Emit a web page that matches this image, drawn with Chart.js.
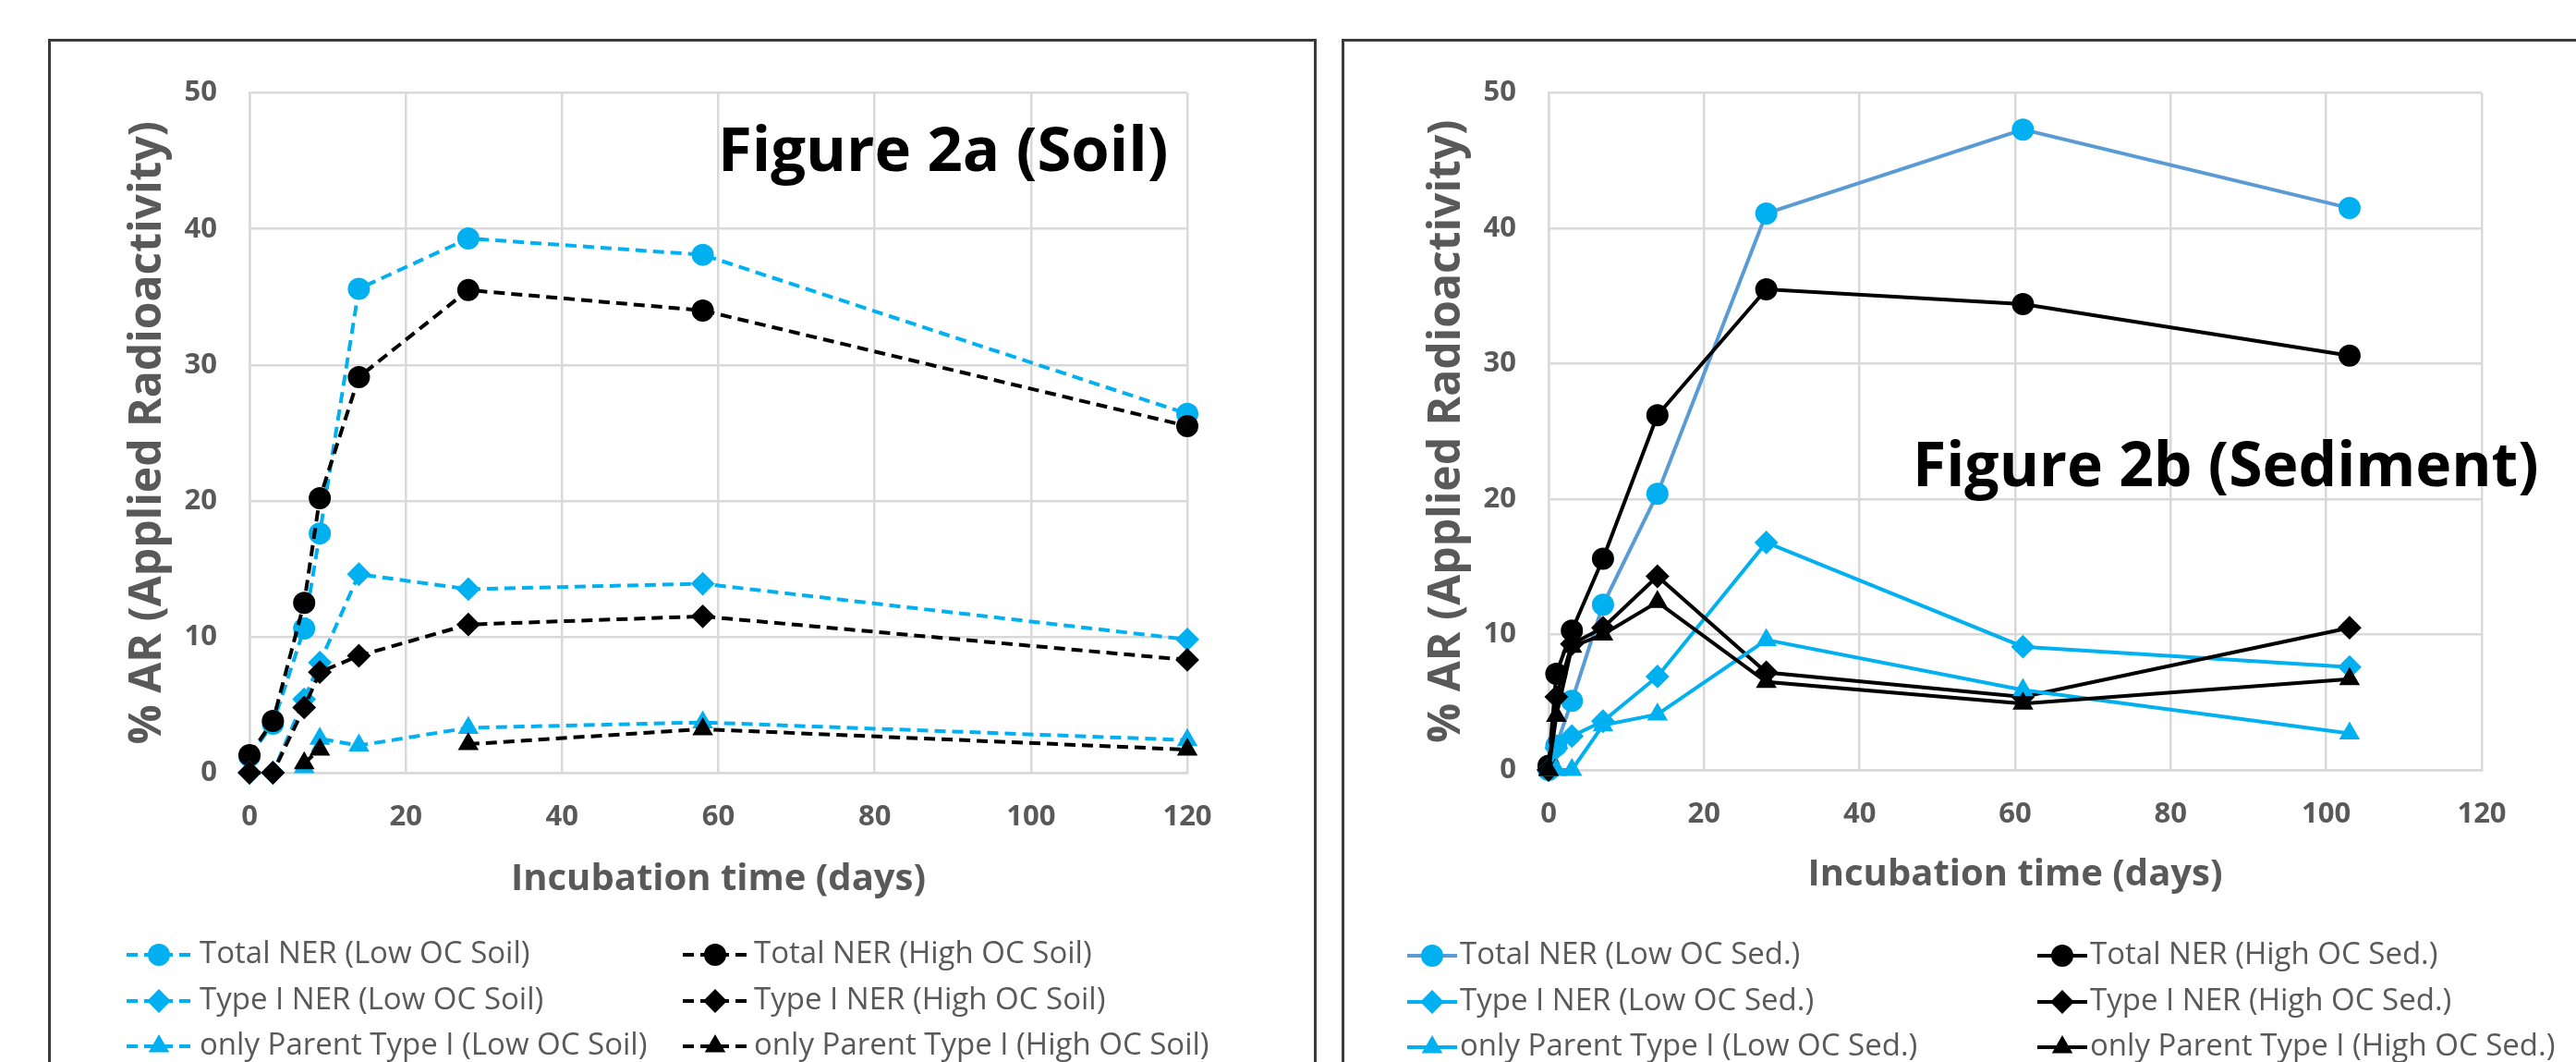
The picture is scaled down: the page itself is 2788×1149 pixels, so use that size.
<!DOCTYPE html>
<html>
<head>
<meta charset="utf-8">
<title>Figure 2a / 2b NER</title>
<script src="https://cdn.jsdelivr.net/npm/chart.js@4.4.1/dist/chart.umd.min.js"></script>
<style>
  html, body { margin: 0; padding: 0; background: #fff; }
  body { width: 2788px; height: 1149px; overflow: hidden; position: relative; }
  .panel { position: absolute; border: 3px solid #3a3a3a; box-sizing: border-box; }
  #panelSoil { left: 52px; top: 42px; width: 1373px; height: 1200px; }
  #panelSed { left: 1452px; top: 42px; width: 1400px; height: 1200px; }
  canvas { position: absolute; }
  #soilChart { left: 56px; top: 47px; }
  #sedChart { left: 1456px; top: 47px; }
</style>
</head>
<body>
<div class="panel" id="panelSoil"></div>
<div class="panel" id="panelSed"></div>
<canvas id="soilChart" width="1364" height="1102"></canvas>
<canvas id="sedChart" width="1332" height="1102"></canvas>

<script>
// ---- data: Figure 2a (Soil) ----
const soilDays = [0, 3, 7, 9, 14, 28, 58, 120];
const totalNerLowSoil = [1.2, 3.6, 10.6, 17.6, 35.6, 39.3, 38.1, 26.4];
const totalNerHighSoil = [1.3, 3.8, 12.5, 20.2, 29.1, 35.5, 34.0, 25.5];
const typeINerLowSoil = [0, 0, 5.4, 8.1, 14.6, 13.5, 13.9, 9.8];
const typeINerHighSoil = [0, 0, 4.8, 7.4, 8.6, 10.9, 11.5, 8.3];
const parentLowSoil = [null, null, 0.4, 2.5, 2.0, 3.3, 3.7, 2.4];
const parentHighSoil = [null, null, 0.7, 1.7, null, 2.1, 3.2, 1.7];

// ---- data: Figure 2b (Sediment) ----
const sedDays = [0, 1, 3, 7, 14, 28, 61, 103];
const totalNerLowSed = [0, 1.8, 5.1, 12.2, 20.4, 41.1, 47.3, 41.5];
const totalNerHighSed = [0.3, 7.1, 10.3, 15.6, 26.2, 35.5, 34.4, 30.6];
const typeINerLowSed = [0, 1.6, 2.5, 3.6, 6.9, 16.8, 9.1, 7.6];
const typeINerHighSed = [0, 5.4, 9.3, 10.5, 14.3, 7.2, 5.4, 10.5];
const parentLowSed = [0, 0, 0, 3.3, 4.1, 9.6, 5.9, 2.7];
const parentHighSed = [0, 4.0, 9.1, 10.0, 12.4, 6.5, 4.9, 6.7];

// axis ticks
const xMax = 120, xStep = 20;
const yMax = 50, yStep = 10;

const BLUE = '#00B0F0';
const STEEL = '#5B9BD5';
const BLACK = '#000000';
const GREY_TEXT = '#595959';
const GRID = '#d9d9d9';

Chart.defaults.font.family = '"Open Sans", "DejaVu Sans", sans-serif';
Chart.defaults.color = GREY_TEXT;

function pts(days, vals) {
    return days.map((d, i) => ({ x: d, y: vals[i] }));
}

const markerSize = { circle: 11, rectRot: 11.5, triangle: 11 };

function series(label, days, vals, color, style, lineColor, dashed) {
    return {
        label: label,
        data: pts(days, vals),
        borderColor: lineColor || color,
        backgroundColor: color,
        pointBackgroundColor: color,
        pointBorderColor: color,
        pointStyle: style,
        pointRadius: markerSize[style],
        pointBorderWidth: 2,
        borderWidth: 4,
        borderDash: dashed ? [12, 7] : [],
        spanGaps: false,
        clip: false,
        tension: 0
    };
}

// legend drawn the Excel way: short line with marker, text right of it
const excelLegend = {
    id: 'excelLegend',
    afterDraw(chart, args, opts) {
        const ctx = chart.ctx;
        chart.data.datasets.forEach((ds, i) => {
            const col = i % 2, row = Math.floor(i / 2);
            const x0 = opts.cols[col];
            const y = opts.rows[row];
            ctx.save();
            ctx.strokeStyle = ds.borderColor;
            ctx.lineWidth = ds.borderWidth;
            ctx.setLineDash(ds.borderDash || []);
            ctx.beginPath();
            ctx.moveTo(x0, y);
            ctx.lineTo(x0 + opts.sample, y);
            ctx.stroke();
            ctx.setLineDash([]);
            ctx.fillStyle = ds.pointBackgroundColor;
            ctx.strokeStyle = ds.pointBorderColor;
            ctx.lineWidth = ds.pointBorderWidth;
            Chart.helpers.drawPoint(ctx, {
                pointStyle: ds.pointStyle,
                radius: ds.pointRadius,
                borderWidth: ds.pointBorderWidth,
                rotation: 0
            }, x0 + opts.sample / 2, y);
            ctx.fillStyle = GREY_TEXT;
            ctx.font = opts.font;
            ctx.textAlign = 'left';
            ctx.textBaseline = 'middle';
            ctx.fillText(ds.label, opts.texts[col], y);
            ctx.restore();
        });
    }
};

const panelTitle = {
    id: 'panelTitle',
    afterDraw(chart, args, opts) {
        const ctx = chart.ctx;
        ctx.save();
        ctx.fillStyle = '#000';
        ctx.font = opts.font;
        ctx.textAlign = 'left';
        ctx.textBaseline = 'alphabetic';
        ctx.fillText(opts.text, opts.x, opts.y);
        ctx.restore();
    }
};

function buildOptions(cfg) {
    return {
        responsive: false,
        animation: false,
        layout: { padding: cfg.padding },
        plugins: {
            legend: { display: false },
            tooltip: { enabled: false },
            excelLegend: cfg.legend,
            panelTitle: cfg.title
        },
        scales: {
            x: {
                type: 'linear',
                min: 0,
                max: xMax,
                afterFit: (s) => { s.height = cfg.xHeight; },
                ticks: { stepSize: xStep, padding: 30, font: { size: 31, weight: 'bold' }, color: GREY_TEXT },
                grid: { color: GRID, lineWidth: 2.5, drawTicks: false },
                border: { color: GRID, width: 2.5 },
                title: {
                    display: true,
                    text: 'Incubation time (days)',
                    color: GREY_TEXT,
                    font: { size: 40, weight: 'bold' },
                    padding: { top: 0, bottom: cfg.xTitlePad }
                }
            },
            y: {
                type: 'linear',
                min: 0,
                max: yMax,
                afterFit: (s) => { s.width = cfg.yWidth; },
                ticks: { stepSize: yStep, padding: 35, font: { size: 31, weight: 'bold' }, color: GREY_TEXT },
                grid: { color: GRID, lineWidth: 2.5, drawTicks: false },
                border: { color: GRID, width: 2.5 },
                title: {
                    display: true,
                    text: '% AR (Applied Radioactivity)',
                    color: GREY_TEXT,
                    font: { size: 48, weight: 'bold' },
                    padding: { top: cfg.yTitlePad, bottom: 0 }
                }
            }
        }
    };
}

function withOrder(list) {
    // later series sit on top, as in the spreadsheet
    list.forEach((d, i) => { d.order = list.length - 1 - i; });
    return list;
}

const soilDatasets = withOrder([
    series('Total NER (Low OC Soil)', soilDays, totalNerLowSoil, BLUE, 'circle', null, true),
    series('Total NER (High OC Soil)', soilDays, totalNerHighSoil, BLACK, 'circle', null, true),
    series('Type I NER (Low OC Soil)', soilDays, typeINerLowSoil, BLUE, 'rectRot', null, true),
    series('Type I NER (High OC Soil)', soilDays, typeINerHighSoil, BLACK, 'rectRot', null, true),
    series('only Parent Type I (Low OC Soil)', soilDays, parentLowSoil, BLUE, 'triangle', null, true),
    series('only Parent Type I (High OC Soil)', soilDays, parentHighSoil, BLACK, 'triangle', null, true)
]);

const sedDatasets = withOrder([
    series('Total NER (Low OC Sed.)', sedDays, totalNerLowSed, BLUE, 'circle', STEEL, false),
    series('Total NER (High OC Sed.)', sedDays, totalNerHighSed, BLACK, 'circle', null, false),
    series('Type I NER (Low OC Sed.)', sedDays, typeINerLowSed, BLUE, 'rectRot', null, false),
    series('Type I NER (High OC Sed.)', sedDays, typeINerHighSed, BLACK, 'rectRot', null, false),
    series('only Parent Type I (Low OC Sed.)', sedDays, parentLowSed, BLUE, 'triangle', null, false),
    series('only Parent Type I (High OC Sed.)', sedDays, parentHighSed, BLACK, 'triangle', null, false)
]);

new Chart(document.getElementById('soilChart'), {
    type: 'line',
    data: { datasets: soilDatasets },
    options: buildOptions({
        padding: { left: 0, top: 51, right: 135, bottom: 133 },
        xHeight: 180,
        yWidth: 214,
        xTitlePad: 40,
        yTitlePad: 76,
        legend: { cols: [81, 683], texts: [160, 760], rows: [986, 1036, 1085], sample: 70, font: '33px "Open Sans"' },
        title: { text: 'Figure 2a (Soil)', x: 721, y: 138, font: 'bold 67px "Open Sans"' }
    }),
    plugins: [excelLegend, panelTitle]
});

new Chart(document.getElementById('sedChart'), {
    type: 'line',
    data: { datasets: sedDatasets },
    options: buildOptions({
        padding: { left: 0, top: 42, right: 102, bottom: 136 },
        xHeight: 180,
        yWidth: 220,
        xTitlePad: 42,
        yTitlePad: 82,
        legend: { cols: [67, 749], texts: [124, 806], rows: [987, 1037, 1086], sample: 54, font: '33px "Open Sans"' },
        title: { text: 'Figure 2b (Sediment)', x: 614, y: 479, font: 'bold 66px "Open Sans"' }
    }),
    plugins: [excelLegend, panelTitle]
});
</script>
</body>
</html>
